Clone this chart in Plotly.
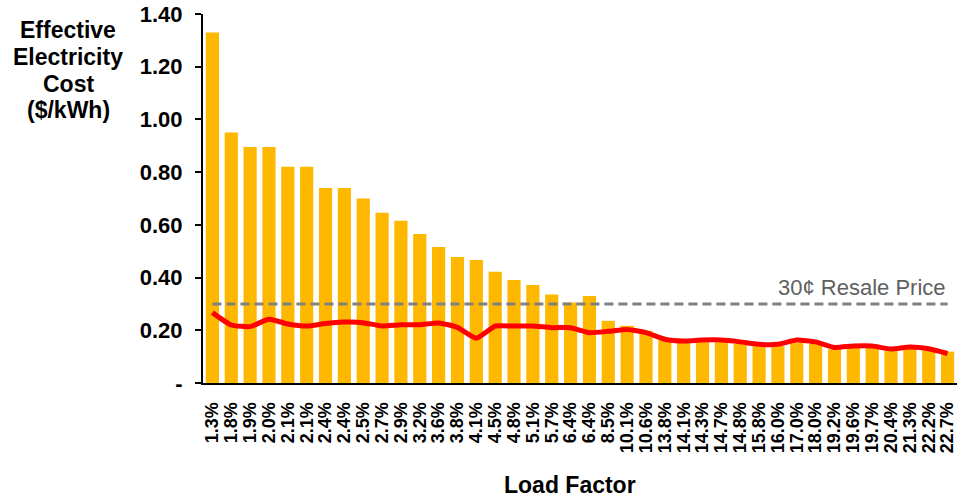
import plotly.graph_objects as go

load_factor = ["1.3%", "1.8%", "1.9%", "2.0%", "2.1%", "2.1%", "2.4%", "2.4%", "2.5%", "2.7%",
               "2.9%", "3.2%", "3.6%", "3.8%", "4.1%", "4.5%", "4.8%", "5.1%", "5.7%", "6.4%",
               "6.4%", "8.5%", "10.1%", "10.6%", "13.8%", "14.1%", "14.3%", "14.7%", "14.8%", "15.8%",
               "16.0%", "17.0%", "18.0%", "19.2%", "19.6%", "19.7%", "20.4%", "21.3%", "22.2%", "22.7%"]

effective_cost = [1.33, 0.95, 0.895, 0.895, 0.82, 0.82, 0.74, 0.74, 0.70, 0.646,
                  0.616, 0.565, 0.516, 0.478, 0.467, 0.422, 0.391, 0.372, 0.336, 0.305,
                  0.33, 0.236, 0.217, 0.198, 0.163, 0.152, 0.155, 0.155, 0.148, 0.14,
                  0.14, 0.152, 0.148, 0.128, 0.133, 0.133, 0.122, 0.13, 0.123, 0.119]

resale_cost = [0.267, 0.22, 0.214, 0.242, 0.224, 0.216, 0.226, 0.231, 0.229, 0.216,
               0.221, 0.221, 0.228, 0.211, 0.17, 0.216, 0.216, 0.216, 0.21, 0.21,
               0.191, 0.196, 0.203, 0.191, 0.166, 0.159, 0.163, 0.163, 0.156, 0.147,
               0.147, 0.163, 0.156, 0.135, 0.14, 0.14, 0.129, 0.137, 0.13, 0.112]

resale_price = 0.30
y_ticks = [0, 0.2, 0.4, 0.6, 0.8, 1.0, 1.2, 1.4]
y_tick_text = ["-", "0.20", "0.40", "0.60", "0.80", "1.00", "1.20", "1.40"]
y_title_lines = ["Effective", "Electricity", "Cost", "($/kWh)"]

idx = list(range(len(load_factor)))
FONT = "Liberation Sans, Arial, sans-serif"

fig = go.Figure()
fig.add_trace(go.Bar(x=idx, y=effective_cost, marker_color="#FFB800",
                     marker_line_width=0, width=0.7))
fig.add_trace(go.Scatter(x=[0, len(idx) - 1], y=[resale_price, resale_price], mode="lines",
                         line=dict(color="#808080", width=3, dash="9px,5px")))
fig.add_trace(go.Scatter(x=idx, y=resale_cost, mode="lines",
                         line=dict(color="#FF0000", width=5, shape="spline", smoothing=0.5)))

fig.update_layout(
    width=958, height=497,
    margin=dict(l=203, r=1, t=14, b=114),
    plot_bgcolor="white", paper_bgcolor="white",
    showlegend=False,
    font=dict(family=FONT, color="black"),
    xaxis=dict(range=[-0.5, len(idx) - 0.5], tickmode="array", tickvals=idx,
               ticktext=load_factor, tickangle=-90,
               tickfont=dict(size=18, family=FONT, weight="bold"),
               showline=True, linecolor="black", linewidth=2, showgrid=False,
               ticks="", zeroline=False, ticklabelstandoff=10),
    yaxis=dict(range=[0, 1.4], tickmode="array", tickvals=y_ticks, ticktext=y_tick_text,
               tickfont=dict(size=22, family=FONT, weight="bold"),
               showline=True, linecolor="black", linewidth=2, showgrid=False,
               ticks="outside", ticklen=6, tickwidth=1.5, tickcolor="black",
               zeroline=False, ticklabelstandoff=8),
)

title_y_px = [30, 57, 84, 110]
for line, ypx in zip(y_title_lines, title_y_px):
    fig.add_annotation(text="<b>" + line + "</b>", xref="paper", yref="paper",
                       x=(68 - 203) / 754, y=(383 - ypx) / 369, xanchor="center", yanchor="middle",
                       showarrow=False, font=dict(size=23, family=FONT, color="black"))

fig.add_annotation(text="<b>Load Factor</b>", xref="paper", yref="paper",
                   x=(570 - 203) / 754, y=(383 - 485) / 369, xanchor="center", yanchor="middle",
                   showarrow=False, font=dict(size=23, family=FONT, color="black"))
fig.add_annotation(text="30¢ Resale Price", x=len(idx) - 1, y=resale_price,
                   xanchor="right", yanchor="bottom", yshift=2, showarrow=False,
                   font=dict(size=22, family=FONT, color="#5F5F5F"))

fig.write_html("out.html", post_script="document.body.style.margin='0';",
               config={"displayModeBar": False})
